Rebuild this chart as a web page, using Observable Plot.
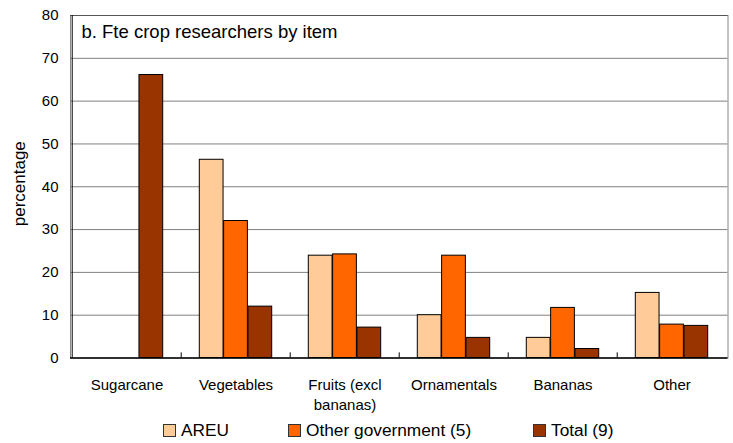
<!DOCTYPE html>
<html>
<head>
<meta charset="utf-8">
<script src="https://cdn.jsdelivr.net/npm/d3@7"></script>
<script src="https://cdn.jsdelivr.net/npm/@observablehq/plot@0.6"></script>
<style>
  body { margin: 0; background: #fff; font-family: "Liberation Sans", Arial, sans-serif; }
  #legend { position: relative; height: 28px; width: 733px; font-size: 17.3px; color: #000; }
  .item { position: absolute; top: 5px; display: flex; align-items: center; white-space: nowrap; }
  .sw { width: 11px; height: 11px; border: 1px solid #333; margin-right: 5px; }
</style>
</head>
<body>
<div id="chart"></div>
<div id="legend"></div>
<script>
const categories = ["Sugarcane", "Vegetables", "Fruits (excl bananas)", "Ornamentals", "Bananas", "Other"];
const tickLabels = ["Sugarcane", "Vegetables", "Fruits (excl\nbananas)", "Ornamentals", "Bananas", "Other"];
const series = ["AREU", "Other government (5)", "Total (9)"];
const areu = [null, 46.3, 23.9, 10.0, 4.7, 15.2];
const otherGov = [null, 32.0, 24.2, 23.9, 11.7, 7.8];
const total = [66.1, 12.0, 7.1, 4.7, 2.1, 7.5];
const colors = ["#FFCC99", "#FF6600", "#993300"];
const yTicks = [0, 10, 20, 30, 40, 50, 60, 70, 80];
const gridTicks = [10, 20, 30, 40, 50, 60, 70];
const title = "b. Fte crop researchers by item";
const yLabel = "percentage";

const W = 733, H = 415, ML = 70, MR = 5.5, MT = 15, MB = 57.5;
const bw = (W - ML - MR) / categories.length;
const barW = 24.33;
const groupW = barW * 3;

const valuesBySeries = [areu, otherGov, total];
const rows = [];
series.forEach((s, i) => {
  categories.forEach((c, j) => {
    const v = valuesBySeries[i][j];
    if (v != null) rows.push({category: c, series: s, value: v, idx: i});
  });
});

const barMarks = series.map((s, i) => {
  const left = (bw - groupW) / 2 + i * barW;
  return Plot.barY(rows.filter(d => d.series === s), {
    x: "category", y: "value",
    fill: colors[i], stroke: "#000", strokeWidth: 1,
    insetLeft: left, insetRight: bw - left - barW
  });
});

const chart = Plot.plot({
  width: W, height: H,
  marginLeft: ML, marginRight: MR, marginTop: MT, marginBottom: MB,
  style: {fontFamily: "Liberation Sans, Arial, sans-serif", color: "#000", background: "#fff"},
  x: {domain: categories, padding: 0},
  y: {domain: [0, 80]},
  marks: [
    Plot.ruleY(gridTicks, {stroke: "#808080", strokeWidth: 1, strokeOpacity: 1}),
    Plot.frame({stroke: "#888", strokeOpacity: 1}),
    Plot.ruleY([80], {stroke: "#555", strokeOpacity: 1}),
    ...barMarks,
    Plot.ruleX(categories.slice(1), {x: d => d, dx: -bw / 2, y1: 0, y2: 1.2, stroke: "#000", strokeOpacity: 1}),
    Plot.ruleY([0], {stroke: "#000", strokeWidth: 1.5, strokeOpacity: 1}),
    Plot.ruleX([categories[0]], {x: d => d, dx: -bw / 2, stroke: "#000", strokeOpacity: 1}),
    Plot.text([title], {frameAnchor: "top-left", dx: 11, dy: 17, text: d => d, fontSize: 18.5, textAnchor: "start", lineAnchor: "middle", fill: "#000"}),
    Plot.text([yLabel], {frameAnchor: "left", dx: -51, dy: -3, text: d => d, rotate: -90, fontSize: 17, textAnchor: "middle", lineAnchor: "middle", fill: "#000"}),
    Plot.axisY({ticks: yTicks, tickSize: 0, tickPadding: 12, fontSize: 15, label: null}),
    Plot.axisX({tickSize: 0, tickPadding: 18, fontSize: 15, lineHeight: 1.33, label: null,
      tickFormat: d => tickLabels[categories.indexOf(d)]})
  ]
});
document.getElementById("chart").appendChild(chart);

const legend = document.getElementById("legend");
const lefts = [163, 288, 533];
series.forEach((s, i) => {
  const item = document.createElement("div");
  item.className = "item";
  item.style.left = lefts[i] + "px";
  const sw = document.createElement("span");
  sw.className = "sw";
  sw.style.background = colors[i];
  const t = document.createElement("span");
  t.textContent = s;
  item.appendChild(sw);
  item.appendChild(t);
  legend.appendChild(item);
});
</script>
</body>
</html>
